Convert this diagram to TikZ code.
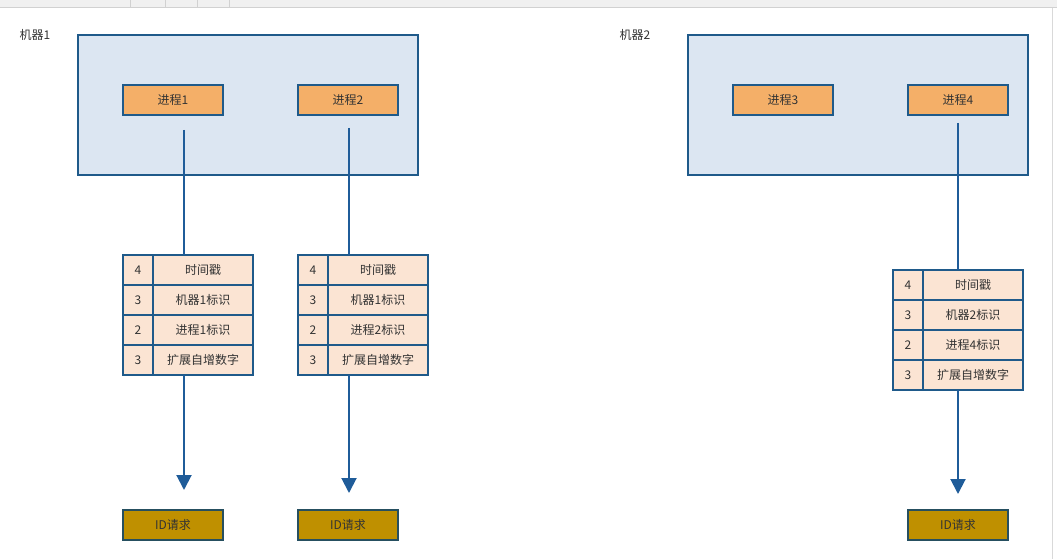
\documentclass[tikz,border=0pt]{standalone}
\usepackage{fontspec}
\setmainfont{Noto Sans CJK SC}
\usepackage{tikz}
\usetikzlibrary{positioning, arrows.meta, calc}

\definecolor{edge}{HTML}{1F5A8A}
\definecolor{machfill}{HTML}{DCE6F2}
\definecolor{procfill}{HTML}{F4AF68}
\definecolor{cellfill}{HTML}{FBE4D3}
\definecolor{idfill}{HTML}{BF9000}
\definecolor{idedge}{HTML}{264F60}
\definecolor{wire}{HTML}{1F5C99}
\definecolor{txt}{HTML}{333333}

\begin{document}
\begin{tikzpicture}[
            x=1pt, y=-1pt,
            font=\fontsize{12}{14}\selectfont, text=txt,
            % Estilos de los nodos
            machine/.style={rectangle, draw=edge, fill=machfill, line width=2pt, minimum width=340pt, minimum height=140pt, inner sep=0pt},
            process/.style={rectangle, draw=edge, fill=procfill, line width=2pt, minimum width=100pt, minimum height=30pt, inner sep=0pt},
            numcell/.style={rectangle, draw=edge, fill=cellfill, line width=2pt, minimum width=30pt, minimum height=30pt, inner sep=0pt, outer sep=0pt},
            txtcell/.style={rectangle, draw=edge, fill=cellfill, line width=2pt, minimum width=100pt, minimum height=30pt, inner sep=0pt, outer sep=0pt},
            request/.style={rectangle, draw=idedge, fill=idfill, line width=2pt, minimum width=100pt, minimum height=30pt, inner sep=0pt},
            wireline/.style={draw=wire, line width=2pt},
            arrow/.style={-{Triangle[width=15pt,length=15pt]}, draw=wire, line width=2pt}
        ]
            \useasboundingbox (0,0) rectangle (1057,559);

            % Barra superior de la captura
            \fill[black!6] (0,0) rectangle (1057,7);
            \draw[black!18] (0,7.5) -- (1057,7.5);
            \draw[black!18] (130,0) -- (130,7) (165,0) -- (165,7) (197,0) -- (197,7) (229,0) -- (229,7);
            \draw[black!15] (1052,8) -- (1052,559);

            % Maquinas y procesos
            \node (lbl1) at (35,35) {机器1};
            \node[machine] (mach1) at (248,105) {};
            \node[process] (p1) at (173,100) {进程1};
            \node[process] (p2) at (348,100) {进程2};

            \node (lbl2) at (635,35) {机器2};
            \node[machine] (mach2) at (858,105) {};
            \node[process] (p3) at (783,100) {进程3};
            \node[process] (p4) at (958,100) {进程4};

            % Tabla del proceso 1
            \node[numcell] (n1a) at (138,270) {4};
            \node[numcell, below=0pt of n1a] (n1b) {3};
            \node[numcell, below=0pt of n1b] (n1c) {2};
            \node[numcell, below=0pt of n1c] (n1d) {3};
            \node[txtcell, right=0pt of n1a] (t1a) {时间戳};
            \node[txtcell, right=0pt of n1b] (t1b) {机器1标识};
            \node[txtcell, right=0pt of n1c] (t1c) {进程1标识};
            \node[txtcell, right=0pt of n1d] (t1d) {扩展自增数字};

            % Tabla del proceso 2
            \node[numcell] (n2a) at (313,270) {4};
            \node[numcell, below=0pt of n2a] (n2b) {3};
            \node[numcell, below=0pt of n2b] (n2c) {2};
            \node[numcell, below=0pt of n2c] (n2d) {3};
            \node[txtcell, right=0pt of n2a] (t2a) {时间戳};
            \node[txtcell, right=0pt of n2b] (t2b) {机器1标识};
            \node[txtcell, right=0pt of n2c] (t2c) {进程2标识};
            \node[txtcell, right=0pt of n2d] (t2d) {扩展自增数字};

            % Tabla del proceso 4
            \node[numcell] (n4a) at (908,285) {4};
            \node[numcell, below=0pt of n4a] (n4b) {3};
            \node[numcell, below=0pt of n4b] (n4c) {2};
            \node[numcell, below=0pt of n4c] (n4d) {3};
            \node[txtcell, right=0pt of n4a] (t4a) {时间戳};
            \node[txtcell, right=0pt of n4b] (t4b) {机器2标识};
            \node[txtcell, right=0pt of n4c] (t4c) {进程4标识};
            \node[txtcell, right=0pt of n4d] (t4d) {扩展自增数字};

            % Peticiones de ID
            \node[request] (id1) at (173,525) {ID请求};
            \node[request] (id2) at (348,525) {ID请求};
            \node[request] (id4) at (958,525) {ID请求};

            % Conexiones
            \coordinate (s1) at (184,130);
            \coordinate (s2) at (349,128);
            \coordinate (s4) at (958,123);
            \draw[wireline] (s1) -- (s1 |- t1a.north);
            \draw[wireline] (s2) -- (s2 |- t2a.north);
            \draw[wireline] (s4) -- (s4 |- t4a.north);
            \draw[arrow] (s1 |- t1d.south) -- ($(s1 |- id1.north) + (0,-19)$);
            \draw[arrow] (s2 |- t2d.south) -- ($(s2 |- id2.north) + (0,-16)$);
            \draw[arrow] (s4 |- t4d.south) -- ($(s4 |- id4.north) + (0,-15)$);
        \end{tikzpicture}
\end{document}
